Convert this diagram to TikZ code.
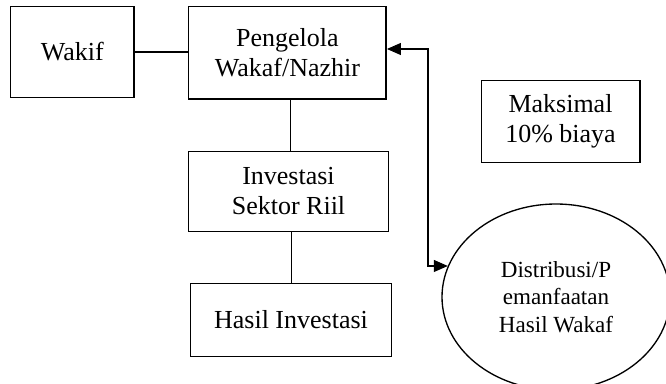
\documentclass[tikz,border=0pt]{standalone}
\usepackage{fontspec}
\setmainfont{Liberation Serif}
\usetikzlibrary{arrows.meta,shapes.geometric}
\begin{document}
\begin{tikzpicture}[x=0.75pt,y=-0.75pt,
  box/.style={draw,line width=1.1pt,rectangle,inner sep=0pt,align=center,
    font=\fontsize{19.5}{22.5}\selectfont},
  link/.style={line width=0.8pt},
  arr/.style={line width=0.8pt,{Triangle[length=10.5pt,width=9pt]}-{Triangle[length=10.5pt,width=9pt]}}]
\useasboundingbox (0,0) rectangle (666,384);
\clip (0,0) rectangle (666,384);
\node[box,minimum width=92.7pt,minimum height=68pt] (wakif) at (72.4,52) {Wakif};
\node[box,minimum width=148.2pt,minimum height=69.2pt] (peng) at (287.4,52.9) {Pengelola\\Wakaf/Nazhir};
\node[box,minimum width=149.8pt,minimum height=59.7pt] (inv) at (288.5,191.5) {Investasi\\Sektor Riil};
\node[box,minimum width=151pt,minimum height=55pt] (hasil) at (291,320) {Hasil Investasi};
\node[box,minimum width=118.9pt,minimum height=61.5pt] (maks) at (560.5,121.7) {Maksimal\\10\% biaya};
\node[draw,ellipse,line width=1pt,inner sep=0pt,minimum width=171pt,minimum height=139.5pt,align=center,
  font=\fontsize{17.3}{20.5}\selectfont] (dist) at (556,297) {Distribusi/P\\emanfaatan\\Hasil Wakaf};
\draw[link] (wakif.east) -- (wakif.east -| peng.west);
\draw[link] ([xshift=2.4pt]peng.south) -- ([xshift=2.4pt]peng.south |- inv.north);
\draw[link] ([xshift=2.2pt]inv.south) -- ([xshift=2.2pt]inv.south |- hasil.north);
\coordinate (b1) at (428,49);
\draw[arr] (b1 -| peng.east) -- (b1) |- (dist.164.5);
\end{tikzpicture}
\end{document}
